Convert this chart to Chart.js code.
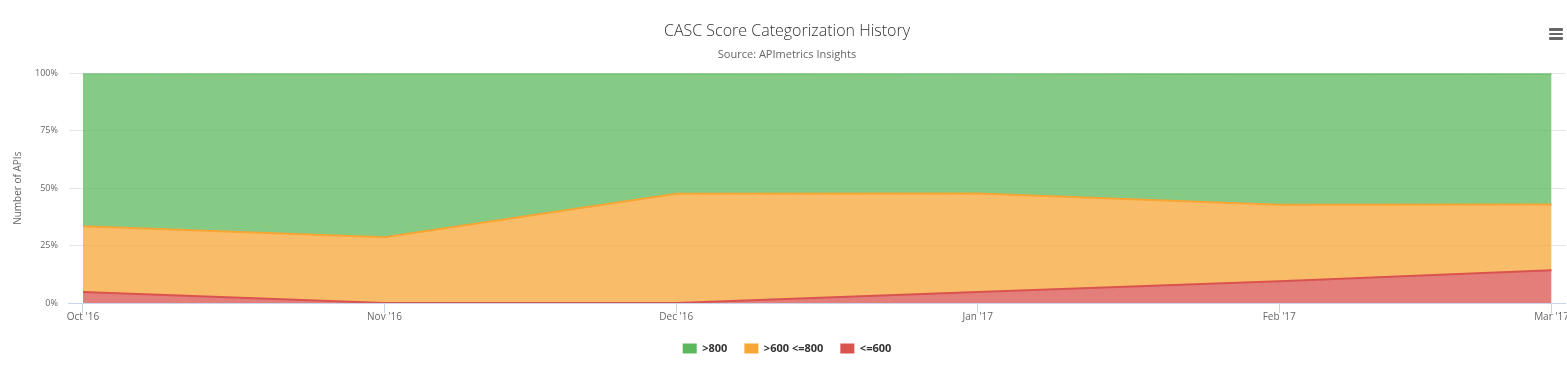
<!DOCTYPE html>
<html>
<head>
<meta charset="utf-8">
<script src="https://cdn.jsdelivr.net/npm/chart.js@4"></script>
<style>
  html, body { margin: 0; padding: 0; background: #fff; }
  #wrap { position: relative; width: 1567px; height: 375px; }
  canvas { display: block; }
  #menu { position: absolute; left: 1549px; top: 28px; width: 14px; }
  #menu div { height: 2.5px; background: #666; margin-bottom: 2px; border-radius: 1px; }
</style>
</head>
<body>
<div id="wrap">
  <canvas id="c" width="1567" height="375"></canvas>
  <div id="menu"><div></div><div></div><div></div></div>
</div>
<script>
const dates = ["2016-10-01", "2016-11-01", "2016-12-01", "2017-01-01", "2017-02-01", "2017-03-01"];
const categories = ["Oct '16", "Nov '16", "Dec '16", "Jan '17", "Feb '17", "Mar '17"];
// percent share of APIs per month (stacked to 100%)
const over800 = [66.7, 71.4, 52.4, 52.4, 57.1, 57.1];
const from600to800 = [28.6, 28.6, 47.6, 42.9, 33.3, 28.6];
const upTo600 = [4.8, 0, 0, 4.8, 9.5, 14.3];
const yTicks = [0, 25, 50, 75, 100];

const FONT = "'Open Sans', sans-serif";
const DAY = 86400000;
const t0 = Date.parse(dates[0]);
const xDays = dates.map(d => (Date.parse(d) - t0) / DAY);

function pts(arr) { return arr.map((v, i) => ({ x: xDays[i], y: v })); }

const chart = new Chart(document.getElementById('c'), {
  type: 'line',
  data: {
    datasets: [
      { label: '<=600', data: pts(upTo600), borderColor: '#d9534f', backgroundColor: 'rgba(217,83,79,0.75)', fill: 'origin', order: 1 },
      { label: '>600 <=800', data: pts(from600to800), borderColor: '#f7a535', backgroundColor: 'rgba(247,165,53,0.75)', fill: '-1', order: 2 },
      { label: '>800', data: pts(over800), borderColor: '#5cb85c', backgroundColor: 'rgba(92,184,92,0.75)', fill: '-1', order: 3 }
    ]
  },
  options: {
    responsive: false,
    animation: false,
    devicePixelRatio: 1,
    layout: { padding: { left: 8, right: 1, top: 0, bottom: 11 } },
    elements: {
      line: { borderWidth: 2, tension: 0 },
      point: { radius: 0 }
    },
    scales: {
      x: {
        type: 'linear',
        min: -1.45,
        max: 152.47,
        afterBuildTicks: (s) => { s.ticks = xDays.map(v => ({ value: v })); },
        afterFit: (s) => { s.height += 5; },
        ticks: {
          callback: (v) => categories[xDays.indexOf(v)],
          color: '#666',
          font: { family: FONT, size: 10 },
          padding: -2,
          maxRotation: 0,
          autoSkip: false
        },
        grid: { display: true, drawOnChartArea: false, drawTicks: true, tickLength: 10, color: '#ccd6eb', lineWidth: 1 },
        border: { display: true, color: '#ccd6eb', width: 1 }
      },
      y: {
        stacked: true,
        min: 0,
        max: 100,
        afterBuildTicks: (s) => { s.ticks = yTicks.map(v => ({ value: v })); },
        ticks: {
          callback: (v) => v + '%',
          color: '#666',
          font: { family: FONT, size: 9 },
          padding: 11
        },
        grid: { color: '#e6e6e6', drawTicks: false, lineWidth: 1 },
        border: { display: false },
        title: {
          display: true,
          text: 'Number of APIs',
          color: '#666',
          font: { family: FONT, size: 10 },
          padding: { top: 4, bottom: 0 }
        }
      }
    },
    plugins: {
      title: {
        display: true,
        text: 'CASC Score Categorization History',
        color: '#333',
        font: { family: FONT, size: 16, weight: '300' },
        padding: { top: 22, bottom: 0 }
      },
      subtitle: {
        display: true,
        text: 'Source: APImetrics Insights',
        color: '#666',
        font: { family: FONT, size: 11 },
        padding: { top: 7, bottom: 12 }
      },
      legend: {
        position: 'bottom',
        reverse: true,
        labels: {
          color: '#333',
          font: { family: FONT, size: 11, weight: 'bold' },
          boxWidth: 14,
          boxHeight: 10,
          padding: 17,
          generateLabels: (ch) => ch.data.datasets.map((d, i) => ({
            text: d.label,
            fillStyle: d.borderColor,
            strokeStyle: d.borderColor,
            lineWidth: 0,
            hidden: false,
            datasetIndex: i,
            fontColor: '#333'
          }))
        }
      },
      tooltip: { enabled: false }
    }
  }
});
</script>
</body>
</html>
